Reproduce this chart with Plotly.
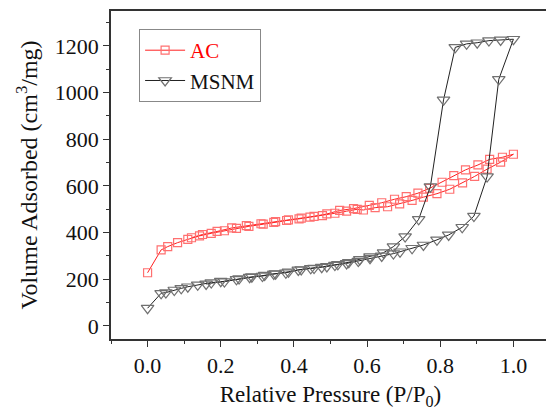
import plotly.graph_objects as go

# AC isotherm (adsorption then desorption)
ac_ads_x = [0.0, 0.037, 0.055, 0.082, 0.11, 0.142, 0.174, 0.21, 0.243, 0.277, 0.316, 0.345, 0.38, 0.414,
            0.444, 0.478, 0.512, 0.544, 0.573, 0.59, 0.622, 0.656, 0.689, 0.723, 0.754, 0.791, 0.826,
            0.861, 0.894, 0.928, 0.965, 1.0]
ac_ads_y = [228, 326, 340, 357, 371, 386, 397, 408, 418, 427, 436, 444, 452, 459,
            466, 473, 483, 492, 500, 497, 507, 511, 523, 538, 552, 567, 586,
            613, 641, 672, 702, 736]
ac_des_x = [0.97, 0.935, 0.903, 0.869, 0.837, 0.805, 0.771, 0.739, 0.707, 0.675, 0.64, 0.606, 0.563,
            0.525, 0.49, 0.455, 0.42, 0.385, 0.35, 0.31, 0.27, 0.23, 0.19, 0.15, 0.12]
ac_des_y = [723, 714, 690, 669, 644, 616, 590, 569, 554, 543, 528, 517, 503,
            495, 480, 470, 462, 455, 447, 438, 430, 420, 405, 392, 378]

# MSNM isotherm (adsorption then desorption)
ms_ads_x = [0.0, 0.037, 0.05, 0.073, 0.092, 0.11, 0.137, 0.174, 0.21, 0.243, 0.279, 0.314, 0.345, 0.378,
            0.412, 0.446, 0.476, 0.512, 0.544, 0.576, 0.608, 0.64, 0.672, 0.69, 0.723, 0.754, 0.791,
            0.823, 0.86, 0.892, 0.928, 0.96, 1.0]
ms_ads_y = [76, 140, 143, 154, 161, 168, 176, 186, 190, 200, 209, 214, 223, 228,
            240, 247, 252, 261, 268, 278, 290, 300, 310, 318, 333, 347, 369,
            390, 423, 471, 640, 1057, 1229]
ms_des_x = [0.965, 0.933, 0.901, 0.872, 0.841, 0.809, 0.773, 0.741, 0.704, 0.672, 0.645, 0.608, 0.58,
            0.55, 0.52, 0.49, 0.455, 0.42, 0.385, 0.35, 0.32, 0.285, 0.25, 0.2, 0.16]
ms_des_y = [1226, 1223, 1214, 1209, 1194, 969, 597, 457, 383, 340, 314, 297, 285,
            273, 264, 255, 248, 242, 232, 224, 218, 211, 203, 192, 180]

x_ticks = [0.0, 0.2, 0.4, 0.6, 0.8, 1.0]
y_ticks = [0, 200, 400, 600, 800, 1000, 1200]

FONT = "Liberation Serif"

fig = go.Figure()
fig.add_trace(go.Scatter(
    x=ac_ads_x + ac_des_x, y=ac_ads_y + ac_des_y,
    mode="lines+markers", name="<span style='color:#ff0000'>AC</span>",
    line=dict(color="#ff2020", width=1),
    marker=dict(symbol="square-open", size=8, color="#ff7070", line=dict(width=1.2)),
))
fig.add_trace(go.Scatter(
    x=ms_ads_x + ms_des_x, y=ms_ads_y + ms_des_y,
    mode="lines+markers", name="MSNM",
    line=dict(color="#222222", width=1),
    marker=dict(symbol="triangle-down-open", size=11, color="#707070", line=dict(width=1.2)),
))

axis_common = dict(
    showline=True, linecolor="#333333", linewidth=1.5, mirror=True,
    ticks="outside", ticklen=6, tickwidth=1.2, tickcolor="#333333",
    showgrid=False, zeroline=False, automargin=False,
    tickfont=dict(family=FONT, size=22, color="#111111"),
)

fig.update_xaxes(
    range=[-0.1, 1.1], tickvals=x_ticks, ticktext=[f"{v:.1f}" for v in x_ticks],
    minor=dict(ticks="outside", ticklen=3, tickcolor="#333333", dtick=0.1, tick0=0, showgrid=False),
    title=dict(text="Relative Pressure (P/P<sub>0</sub>)", font=dict(family=FONT, size=23, color="#111111"), standoff=12),
    **axis_common,
)
fig.update_yaxes(
    range=[-56, 1350], tickvals=y_ticks,
    minor=dict(ticks="outside", ticklen=3, tickcolor="#333333", dtick=100, tick0=0, showgrid=False),
    title=dict(text="Volume Adsorbed (cm<sup>3</sup>/mg)", font=dict(family=FONT, size=24, color="#111111"), standoff=10),
    **axis_common,
)

fig.update_layout(
    width=550, height=410,
    margin=dict(l=111, r=0, t=11, b=71),
    plot_bgcolor="white", paper_bgcolor="white",
    font=dict(family=FONT),
    legend=dict(
        x=0.064, y=0.945, xanchor="left", yanchor="top",
        bordercolor="#888888", borderwidth=1, bgcolor="white",
        font=dict(family=FONT, size=21, color="#111111"),
        tracegroupgap=0, itemwidth=40,
    ),
    showlegend=True,
)

fig.write_html(
    "out.html",
    config={"displayModeBar": False},
    post_script="document.body.style.margin='0';document.body.style.overflow='hidden';",
)
